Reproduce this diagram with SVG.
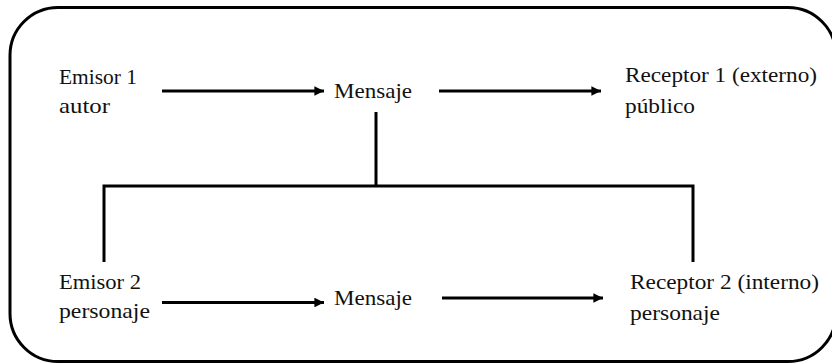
<svg xmlns="http://www.w3.org/2000/svg" width="832" height="364" viewBox="0 0 832 364">
  <style>
    .t { font-family: "Liberation Serif", "Times New Roman", serif; font-size: 22px; fill: #111; }
    .ln { stroke: #000; stroke-width: 3; fill: none; }
    .ar { stroke: #000; stroke-width: 3; fill: none; marker-end: url(#ah); }
  </style>
  <defs>
    <marker id="ah" viewBox="0 0 10 10" refX="10" refY="5" markerWidth="4" markerHeight="3.2" markerUnits="strokeWidth" orient="auto">
      <path d="M0,0 L10,5 L0,10 z" fill="#000"/>
    </marker>
  </defs>
  <rect x="10" y="7.5" width="826" height="354" rx="48" ry="48" fill="#fff" stroke="#000" stroke-width="3"/>
  <g id="connectors">
    <line class="ar" x1="162" y1="91" x2="324" y2="91"/>
    <line class="ar" x1="439" y1="91" x2="601" y2="91"/>
    <line class="ar" x1="162" y1="302.5" x2="324" y2="302.5"/>
    <line class="ar" x1="442" y1="298" x2="603" y2="298"/>
    <polyline class="ln" points="376,112 376,186"/>
    <polyline class="ln" points="104,262 104,186 693,186 693,262"/>
  </g>
  <g id="emisor1">
    <text class="t" x="59" y="84" textLength="78" lengthAdjust="spacingAndGlyphs">Emisor 1</text>
    <text class="t" x="59" y="113" textLength="51" lengthAdjust="spacingAndGlyphs">autor</text>
  </g>
  <g id="mensaje1">
    <text class="t" x="334" y="98" textLength="78" lengthAdjust="spacingAndGlyphs">Mensaje</text>
  </g>
  <g id="receptor1">
    <text class="t" x="625" y="82" textLength="192" lengthAdjust="spacingAndGlyphs">Receptor 1 (externo)</text>
    <text class="t" x="625" y="113" textLength="70" lengthAdjust="spacingAndGlyphs">público</text>
  </g>
  <g id="emisor2">
    <text class="t" x="59" y="289" textLength="82" lengthAdjust="spacingAndGlyphs">Emisor 2</text>
    <text class="t" x="59" y="318" textLength="91" lengthAdjust="spacingAndGlyphs">personaje</text>
  </g>
  <g id="mensaje2">
    <text class="t" x="334" y="305" textLength="78" lengthAdjust="spacingAndGlyphs">Mensaje</text>
  </g>
  <g id="receptor2">
    <text class="t" x="630" y="289" textLength="189" lengthAdjust="spacingAndGlyphs">Receptor 2 (interno)</text>
    <text class="t" x="630" y="320" textLength="90" lengthAdjust="spacingAndGlyphs">personaje</text>
  </g>
</svg>
